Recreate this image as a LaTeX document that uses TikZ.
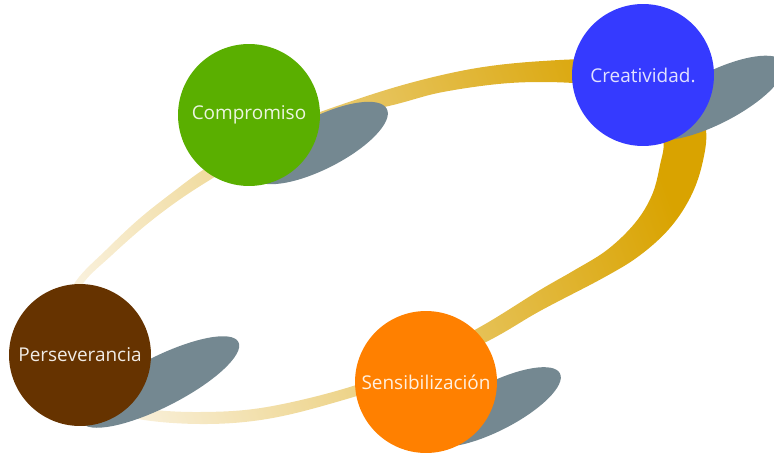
\documentclass[tikz,border=0pt]{standalone}
\usepackage{fontspec}
\setmainfont{Open Sans}
\usetikzlibrary{calc}

\definecolor{compgreen}{RGB}{90,175,0}
\definecolor{creablue}{RGB}{53,58,255}
\definecolor{persbrown}{RGB}{102,51,0}
\definecolor{sensorange}{RGB}{255,128,0}
\definecolor{blobgrey}{RGB}{116,136,145}
\definecolor{ringdark}{RGB}{217,163,0}
\definecolor{ringmid}{RGB}{229,190,80}
\definecolor{ringpale}{RGB}{249,240,218}

\tikzset{
  stage/.style={circle, minimum size=2.84cm, inner sep=0pt,
    font=\fontsize{10.8}{12}\selectfont},
  blob/.style={fill=blobgrey},
}

\begin{document}
\begin{tikzpicture}[x=0.02cm, y=-0.02cm]
\useasboundingbox (0,0) rectangle (774,453);
\clip (0,0) rectangle (774,453);

% centres of the four circles and of their shadows
\coordinate (c1) at (249,115);
\coordinate (c2) at (643,75);
\coordinate (c3) at (80,355);
\coordinate (c4) at (426,382);
\coordinate (s1) at ($(c1)+(71,28)$);
\coordinate (s2) at ($(c2)+(71,23)$);
\coordinate (s3) at ($(c3)+(80,27)$);
\coordinate (s4) at ($(c4)+(68,25)$);

% ring
\shade[even odd rule, left color=ringpale, middle color=ringmid,
       right color=ringdark, shading angle=110]
  plot[smooth cycle, tension=0.6] coordinates {
    (240,150) (290,124) (343,104) (410,83) (477,68) (543,61) (605,60)
    (660,72) (694,98) (706,130) (702,165) (690,198) (669,229) (639,256)
    (603,278) (540,311) (490,340) (415,376) (340,401) (267,419) (200,424)
    (133,418) (85,400) (52,362) (56,320) (76,281) (106,250) (139,219)
    (173,192) (206,168)}
  plot[smooth cycle, tension=0.6] coordinates {
    (213,178) (260,150) (320,122) (393,105) (443,92) (510,83) (573,83)
    (615,90) (648,112) (663,140) (660,165) (652,195) (635,223) (607,250)
    (573,271) (540,290) (480,327) (415,360) (353,386) (267,407) (200,412)
    (140,408) (100,395) (70,360) (70,320) (82,285) (112,255) (146,225)
    (179,200)};

% shadows
\fill[blob, rotate around={27:(s1)}] (s1) ellipse (75 and 26);
\fill[blob, rotate around={27:(s2)}] (s2) ellipse (78 and 26);
\fill[blob, rotate around={27:(s3)}] (s3) ellipse (88 and 25);
\fill[blob, rotate around={27:(s4)}] (s4) ellipse (74 and 24);

\node[stage, fill=compgreen, text=white!88!compgreen] (compromiso) at (c1) {Compromiso};
\node[stage, fill=creablue, text=white!85!creablue] (creatividad) at (c2) {Creatividad.};
\node[stage, fill=persbrown, text=white!90!persbrown] (perseverancia) at (c3) {Perseverancia};
\node[stage, fill=sensorange, text=white!88!sensorange] (sensibilizacion) at (c4) {Sensibilización};
\end{tikzpicture}
\end{document}
